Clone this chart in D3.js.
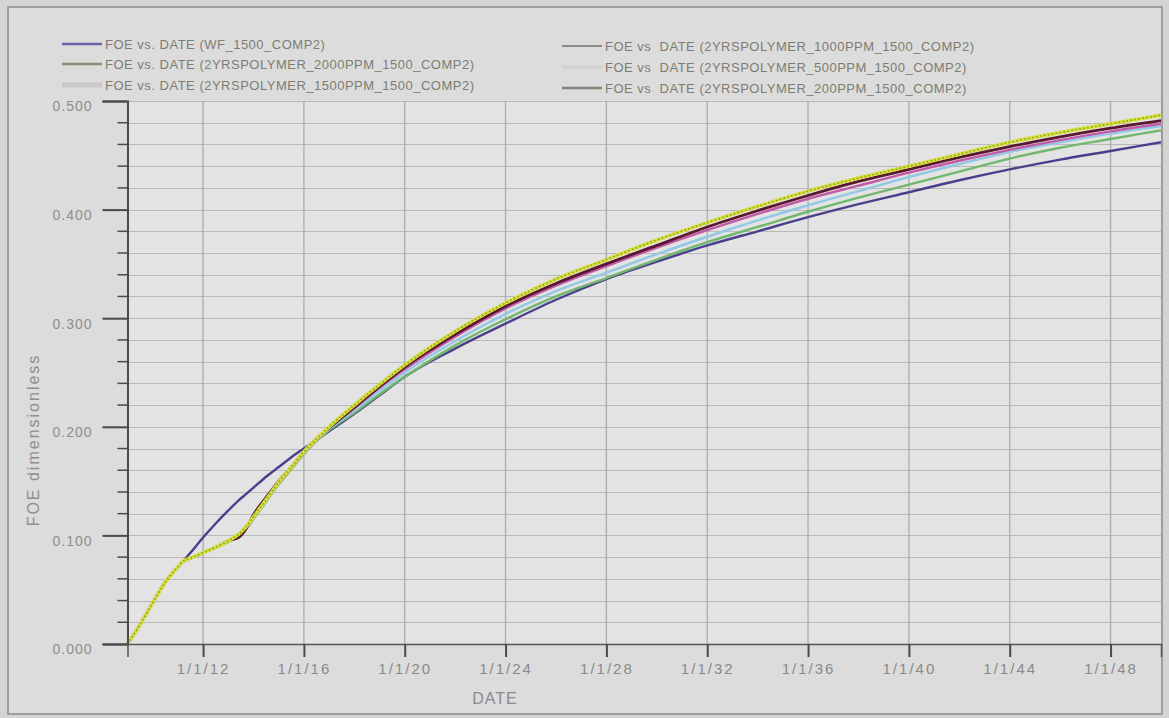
<!DOCTYPE html>
<html>
<head>
<meta charset="utf-8">
<script src="https://cdn.jsdelivr.net/npm/d3@7"></script>
<style>
  html, body { margin: 0; padding: 0; background: #d6d6d6; }
  svg { display: block; }
  text { font-family: "Liberation Sans", Arial, sans-serif; }
</style>
</head>
<body>
<svg id="chart" width="1169" height="718"></svg>
<script>
// ---------------- DATA ----------------
const years = [2009, 2009.5, 2010, 2010.5, 2011, 2011.2, 2011.5, 2012, 2012.5, 2013, 2013.4, 2013.7,
  2014, 2014.5, 2015, 2015.5, 2016, 2016.5, 2017, 2018, 2019, 2020, 2022, 2024, 2026, 2028,
  2030, 2032, 2034, 2036, 2038, 2040, 2042, 2044, 2046, 2048, 2050];

const foeWF = [0, 0.018, 0.038, 0.057, 0.071, 0.076, 0.084, 0.098, 0.111, 0.123, 0.132, 0.138,
  0.144, 0.154, 0.163, 0.172, 0.180, 0.188, 0.196, 0.212, 0.229, 0.246, 0.272, 0.295, 0.317, 0.336,
  0.352, 0.367, 0.380, 0.393, 0.405, 0.416, 0.427, 0.437, 0.446, 0.454, 0.462];

const foeP2000 = [0, 0.018, 0.038, 0.057, 0.071, 0.076, 0.079, 0.084, 0.089, 0.094, 0.100, 0.106,
  0.115, 0.131, 0.147, 0.161, 0.175, 0.187, 0.197, 0.213, 0.230, 0.246, 0.275, 0.299, 0.320, 0.337,
  0.354, 0.370, 0.384, 0.398, 0.411, 0.423, 0.435, 0.447, 0.457, 0.465, 0.473];

const foeP1500 = [0, 0.018, 0.038, 0.057, 0.071, 0.076, 0.079, 0.084, 0.089, 0.095, 0.100, 0.107,
  0.116, 0.132, 0.148, 0.162, 0.176, 0.188, 0.198, 0.215, 0.233, 0.250, 0.279, 0.304, 0.325, 0.342,
  0.359, 0.375, 0.390, 0.404, 0.417, 0.430, 0.442, 0.453, 0.462, 0.470, 0.477];

const foeP1000 = [0, 0.018, 0.038, 0.057, 0.071, 0.076, 0.079, 0.084, 0.089, 0.095, 0.100, 0.107,
  0.117, 0.133, 0.148, 0.162, 0.176, 0.188, 0.199, 0.217, 0.236, 0.253, 0.283, 0.309, 0.330, 0.348,
  0.365, 0.381, 0.396, 0.410, 0.422, 0.434, 0.445, 0.455, 0.464, 0.472, 0.479];

const foeP500 = [0, 0.018, 0.038, 0.057, 0.071, 0.076, 0.079, 0.084, 0.089, 0.095, 0.098, 0.106,
  0.119, 0.135, 0.150, 0.163, 0.177, 0.189, 0.199, 0.218, 0.237, 0.255, 0.285, 0.311, 0.332, 0.350,
  0.367, 0.384, 0.399, 0.413, 0.426, 0.437, 0.448, 0.458, 0.467, 0.475, 0.482];

const foeP200 = [0, 0.018, 0.038, 0.057, 0.071, 0.076, 0.079, 0.084, 0.089, 0.095, 0.101, 0.108,
  0.117, 0.133, 0.149, 0.163, 0.177, 0.189, 0.200, 0.220, 0.239, 0.257, 0.288, 0.314, 0.336, 0.354,
  0.372, 0.388, 0.403, 0.417, 0.429, 0.440, 0.451, 0.462, 0.471, 0.479, 0.487];

const seriesNames = [
  "FOE vs. DATE (WF_1500_COMP2)",
  "FOE vs. DATE (2YRSPOLYMER_2000PPM_1500_COMP2)",
  "FOE vs. DATE (2YRSPOLYMER_1500PPM_1500_COMP2)",
  "FOE vs  DATE (2YRSPOLYMER_1000PPM_1500_COMP2)",
  "FOE vs  DATE (2YRSPOLYMER_500PPM_1500_COMP2)",
  "FOE vs  DATE (2YRSPOLYMER_200PPM_1500_COMP2)"
];
const seriesValues = [foeWF, foeP2000, foeP1500, foeP1000, foeP500, foeP200];

const xTickYears = [2012, 2016, 2020, 2024, 2028, 2032, 2036, 2040, 2044, 2048];
const yTickValues = [0.0, 0.1, 0.2, 0.3, 0.4, 0.5];
const xTitle = "DATE";
const yTitle = "FOE  dimensionless";

// ---------------- STYLE ----------------
const curveColors  = ["#4a3f8c", "#72b86c", "#93c8e4", "#c25aa6", "#5a1830", "#d6e03a"];
const legendColors = ["#6a62a8", "#8c8c7c", "#c8c8c8", "#8c8c84", "#d2d2d2", "#84847a"];
const legendWidths = [2.5, 2.5, 5, 2, 4, 2.5];

const svg = d3.select("#chart");
const W = 1169, H = 718;
const plot = { left: 127.5, right: 1161, top: 101, bottom: 644 };

function yearToDate(y) {
  const Y = Math.floor(y);
  const s = new Date(Y, 0, 1), e = new Date(Y + 1, 0, 1);
  return new Date(+s + (y - Y) * (e - s));
}

// background and frame
svg.append("rect").attr("x", 0).attr("y", 0).attr("width", W).attr("height", H).attr("fill", "#d4d4d4");
svg.append("rect").attr("x", 8).attr("y", 7).attr("width", 1154).attr("height", 707)
  .attr("fill", "#dcdcdc").attr("stroke", "#8a8a8a").attr("stroke-width", 1.5);

const x = d3.scaleTime()
  .domain([yearToDate(2009), yearToDate(2050)])
  .range([plot.left, plot.right]);
const y = d3.scaleLinear().domain([0, 0.5]).range([plot.bottom, plot.top]);

// plot area
svg.append("rect")
  .attr("x", plot.left).attr("y", plot.top)
  .attr("width", plot.right - plot.left).attr("height", plot.bottom - plot.top)
  .attr("fill", "#e3e3e3");

// horizontal grid (every 0.02)
const minorY = d3.range(0, 0.5001, 0.02);
svg.append("g").selectAll("line").data(minorY).join("line")
  .attr("x1", plot.left).attr("x2", plot.right)
  .attr("y1", d => Math.round(y(d)) + 0.5).attr("y2", d => Math.round(y(d)) + 0.5)
  .attr("stroke", "#b9b9b9").attr("stroke-width", 1);

// vertical grid
svg.append("g").selectAll("line").data(xTickYears).join("line")
  .attr("x1", d => x(yearToDate(d))).attr("x2", d => x(yearToDate(d)))
  .attr("y1", plot.top).attr("y2", plot.bottom)
  .attr("stroke", "#ababab").attr("stroke-width", 1.3);

// curves
const line = d3.line()
  .x((d, i) => x(yearToDate(years[i])))
  .y(d => y(d))
  .curve(d3.curveMonotoneX);

const curveG = svg.append("g");
seriesValues.forEach((vals, k) => {
  if (k === 5) {
    curveG.append("path").attr("d", line(vals)).attr("fill", "none")
      .attr("stroke", curveColors[k]).attr("stroke-width", 3.6);
    curveG.append("path").attr("d", line(vals)).attr("fill", "none")
      .attr("stroke", "#8f9a2a").attr("stroke-width", 1.6)
      .attr("stroke-dasharray", "1.5,2.5");
  } else {
    curveG.append("path").attr("d", line(vals)).attr("fill", "none")
      .attr("stroke", curveColors[k]).attr("stroke-width", k === 4 ? 2.8 : 2.4);
  }
});

// axes
const yAxis = d3.axisLeft(y).tickValues(yTickValues).tickFormat(d3.format(".3f")).tickSize(25).tickPadding(10);
const yG = svg.append("g").attr("transform", `translate(${plot.left},0)`).call(yAxis);
yG.select(".domain").attr("stroke", "#4a4a4a").attr("stroke-width", 2);
yG.selectAll(".tick line").attr("stroke", "#4a4a4a").attr("stroke-width", 2);
yG.selectAll(".tick text").attr("fill", "#8e8e8e").attr("font-size", 14).attr("letter-spacing", 1).attr("dy", "0.7em")
  .attr("font-family", "'Liberation Sans', Arial, sans-serif");

// y minor ticks
const yMinor = minorY.filter(v => Math.abs(v * 10 - Math.round(v * 10)) > 1e-6);
svg.append("g").selectAll("line").data(yMinor).join("line")
  .attr("x1", plot.left - 10).attr("x2", plot.left)
  .attr("y1", d => y(d)).attr("y2", d => y(d))
  .attr("stroke", "#4a4a4a").attr("stroke-width", 1.5);

const xAxis = d3.axisBottom(x).tickValues(xTickYears.map(yearToDate))
  .tickFormat(d3.timeFormat("%-m/%-d/%y")).tickSize(13).tickPadding(6);
const xG = svg.append("g").attr("transform", `translate(0,${plot.bottom})`).call(xAxis);
xG.select(".domain").attr("stroke", "#555").attr("stroke-width", 1.5);
xG.selectAll(".tick line").attr("stroke", "#4a4a4a").attr("stroke-width", 2);
xG.selectAll(".tick text").attr("fill", "#8a8a8a").attr("font-size", 15).attr("letter-spacing", 2)
  .attr("font-family", "'Liberation Sans', Arial, sans-serif");

// titles
svg.append("text").attr("x", 495).attr("y", 704).attr("text-anchor", "middle")
  .attr("fill", "#8a8a8a").attr("font-size", 16).attr("letter-spacing", 1).text(xTitle);
svg.append("text").attr("transform", "translate(39,440) rotate(-90)").attr("text-anchor", "middle")
  .attr("fill", "#8e8e8e").attr("font-size", 16).attr("letter-spacing", 2).text(yTitle);

// legend
const legendPos = [
  { lx: 62, ty: 44 }, { lx: 62, ty: 64 }, { lx: 62, ty: 85 },
  { lx: 562, ty: 46 }, { lx: 562, ty: 67 }, { lx: 562, ty: 88 }
];
const lg = svg.append("g");
seriesNames.forEach((name, k) => {
  const p = legendPos[k];
  lg.append("line").attr("x1", p.lx).attr("x2", p.lx + 40).attr("y1", p.ty).attr("y2", p.ty)
    .attr("stroke", legendColors[k]).attr("stroke-width", legendWidths[k]);
  lg.append("text").attr("x", p.lx + 43).attr("y", p.ty + 4.5)
    .attr("fill", "#7c7c72").attr("font-size", 13).attr("letter-spacing", 0.5)
    .attr("xml:space", "preserve").style("white-space", "pre").text(name);
});
</script>
</body>
</html>
